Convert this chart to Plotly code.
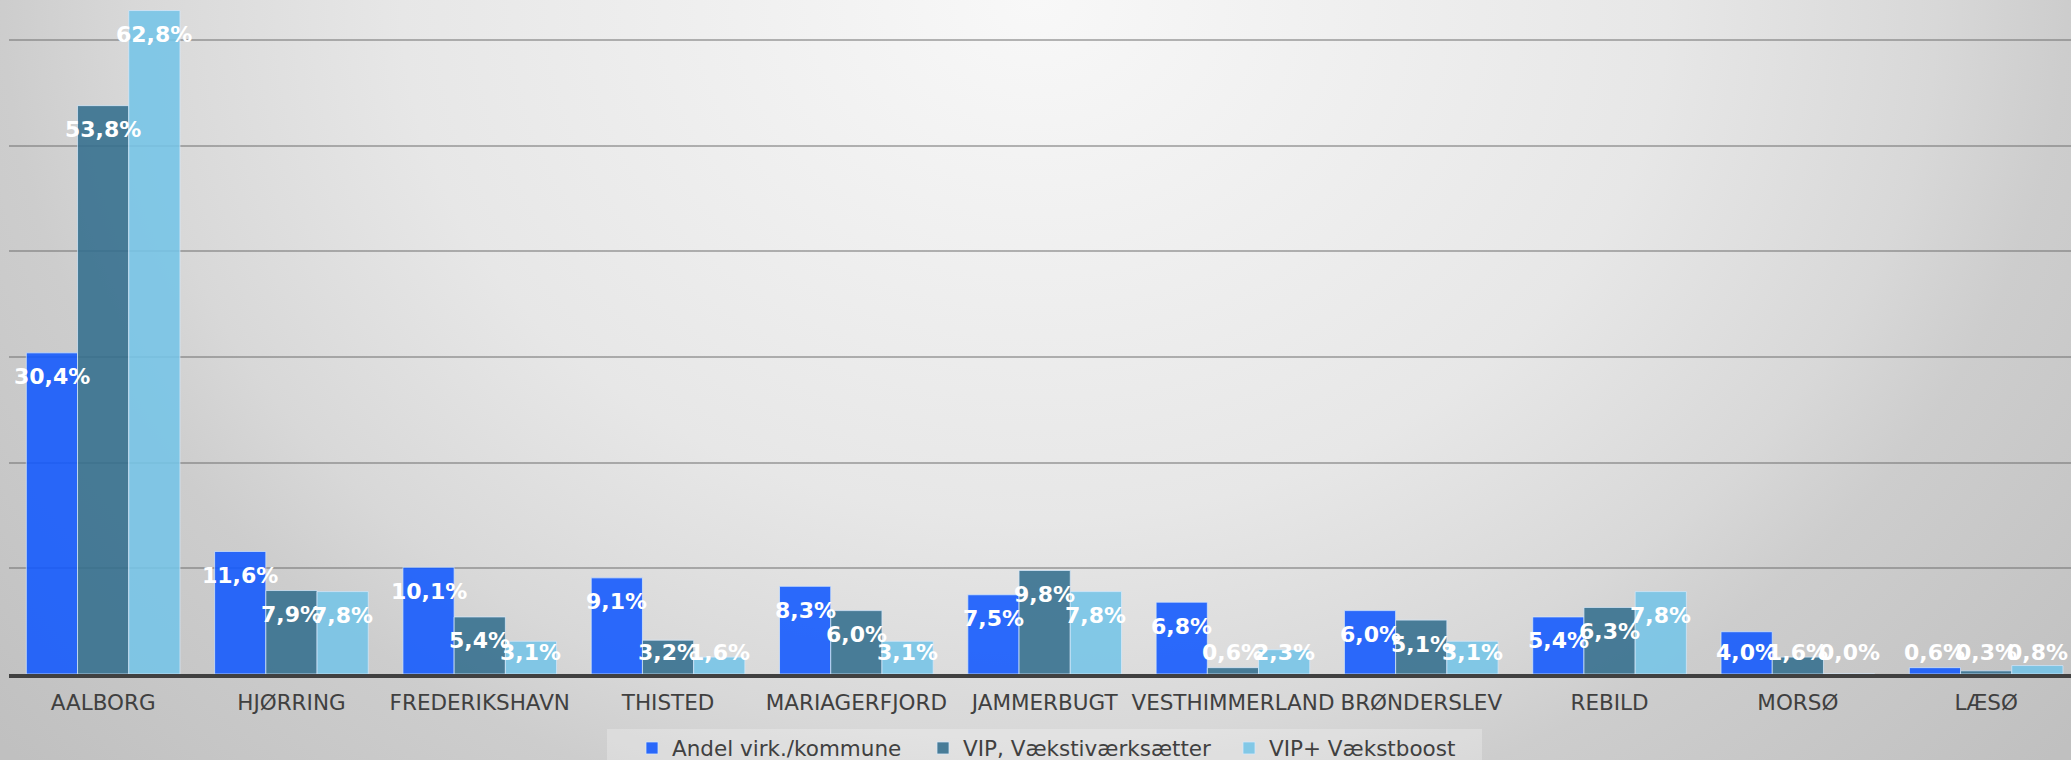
import base64
import plotly.graph_objects as go

categories = ["AALBORG", "HJØRRING", "FREDERIKSHAVN", "THISTED", "MARIAGERFJORD",
              "JAMMERBUGT", "VESTHIMMERLAND", "BRØNDERSLEV", "REBILD", "MORSØ", "LÆSØ"]
andel_virk = [30.4, 11.6, 10.1, 9.1, 8.3, 7.5, 6.8, 6.0, 5.4, 4.0, 0.6]
vip_vaekst = [53.8, 7.9, 5.4, 3.2, 6.0, 9.8, 0.6, 5.1, 6.3, 1.6, 0.3]
vip_plus = [62.8, 7.8, 3.1, 1.6, 3.1, 7.8, 2.3, 3.1, 7.8, 0.0, 0.8]
series_names = ["Andel virk./kommune", "VIP, Vækstiværksætter", "VIP+ Vækstboost"]
series_colors = ["#1259FF", "#346F8E", "#76C5E8"]

W, H = 2071, 760
ML, MR, MT, MB = 9, 0, 0, 86
PW, PH = W - ML - MR, H - MT - MB
YMAX = 63.8
XR = [-0.5, -0.5 + PW / 188.3]
BARGAP = 0.184
FONT = "DejaVu Sans, Verdana, sans-serif"

svg = f'''<svg xmlns="http://www.w3.org/2000/svg" width="{W}" height="{H}" viewBox="0 0 {W} {H}">
<defs><radialGradient id="g" gradientUnits="userSpaceOnUse" cx="1035" cy="0" r="1375"
 gradientTransform="translate(1035 0) scale(1 0.82) translate(-1035 0)">
<stop offset="0" stop-color="#f8f8f8"/><stop offset="0.46" stop-color="#e7e7e7"/>
<stop offset="0.656" stop-color="#d8d8d8"/><stop offset="0.75" stop-color="#cdcdcd"/>
<stop offset="1" stop-color="#c0c0c0"/></radialGradient></defs>
<rect x="0" y="0" width="{W}" height="{H}" fill="url(#g)"/></svg>'''
bg_uri = "data:image/svg+xml;base64," + base64.b64encode(svg.encode()).decode()

fig = go.Figure()
all_series = [andel_virk, vip_vaekst, vip_plus]
legend_widths = [246, 261, 200]
xs = list(range(len(categories)))
for name, vals, col, lw in zip(series_names, all_series, series_colors, legend_widths):
    fig.add_trace(go.Bar(
        x=xs, y=vals, name=name, opacity=0.88,
        marker=dict(color=col, line=dict(color="rgba(215,235,255,0.75)", width=1)),
        legendwidth=lw, hoverinfo="skip",
    ))

px_per_unit = PH / YMAX
barw = (1 - BARGAP) / 3
annotations = []
for j, vals in enumerate(all_series):
    for i, v in enumerate(vals):
        txt = f"{v:.1f}".replace(".", ",") + "%"
        if v * px_per_unit - 24 < 22:
            yv, ys = 0, 22
        else:
            yv, ys = v, -24
        annotations.append(dict(
            x=i + (j - 1) * barw, y=yv, yshift=ys, xref="x", yref="y",
            text=txt, showarrow=False, xanchor="center", yanchor="middle",
            font=dict(family=FONT, size=22, color="white", weight="bold"),
        ))

lx0, lx1, ly0 = 607, 1482, 729
fig.update_layout(
    width=W, height=H,
    margin=dict(l=ML, r=MR, t=MT, b=MB, autoexpand=False),
    paper_bgcolor="#d8d8d8", plot_bgcolor="rgba(0,0,0,0)",
    barmode="group", bargap=BARGAP, bargroupgap=0,
    font=dict(family=FONT, size=21.5, color="#404040"),
    xaxis=dict(range=XR, tickmode="array", tickvals=xs, ticktext=categories,
               showgrid=False, showline=True, linecolor="#404040", linewidth=4,
               ticks="", ticklabelstandoff=6,
               tickfont=dict(size=21.5, color="#404040"), fixedrange=True),
    yaxis=dict(range=[0, YMAX], dtick=10, showticklabels=False, ticks="",
               showgrid=True, gridcolor="rgba(110,110,110,0.5)", gridwidth=2,
               zeroline=False, showline=False, fixedrange=True),
    legend=dict(orientation="h", xanchor="left", yanchor="middle",
                x=(632 - ML) / PW, y=(PH - 748) / PH,
                bgcolor="rgba(0,0,0,0)", font=dict(size=21.5, color="#404040"),
                traceorder="normal"),
    annotations=annotations,
    images=[dict(source=bg_uri, xref="paper", yref="paper",
                 x=-ML / PW, y=1 + MT / PH, sizex=W / PW, sizey=H / PH,
                 xanchor="left", yanchor="top", sizing="stretch", layer="below")],
    shapes=[dict(type="rect", xref="paper", yref="paper", layer="below",
                 x0=(lx0 - ML) / PW, x1=(lx1 - ML) / PW,
                 y0=(PH - H) / PH, y1=(PH - ly0) / PH,
                 fillcolor="rgba(255,255,255,0.25)", line=dict(width=0))],
)
fig.write_html(
    "out.html",
    config={"displayModeBar": False},
    post_script="document.body.style.margin='0';document.body.style.overflow='hidden';",
)
